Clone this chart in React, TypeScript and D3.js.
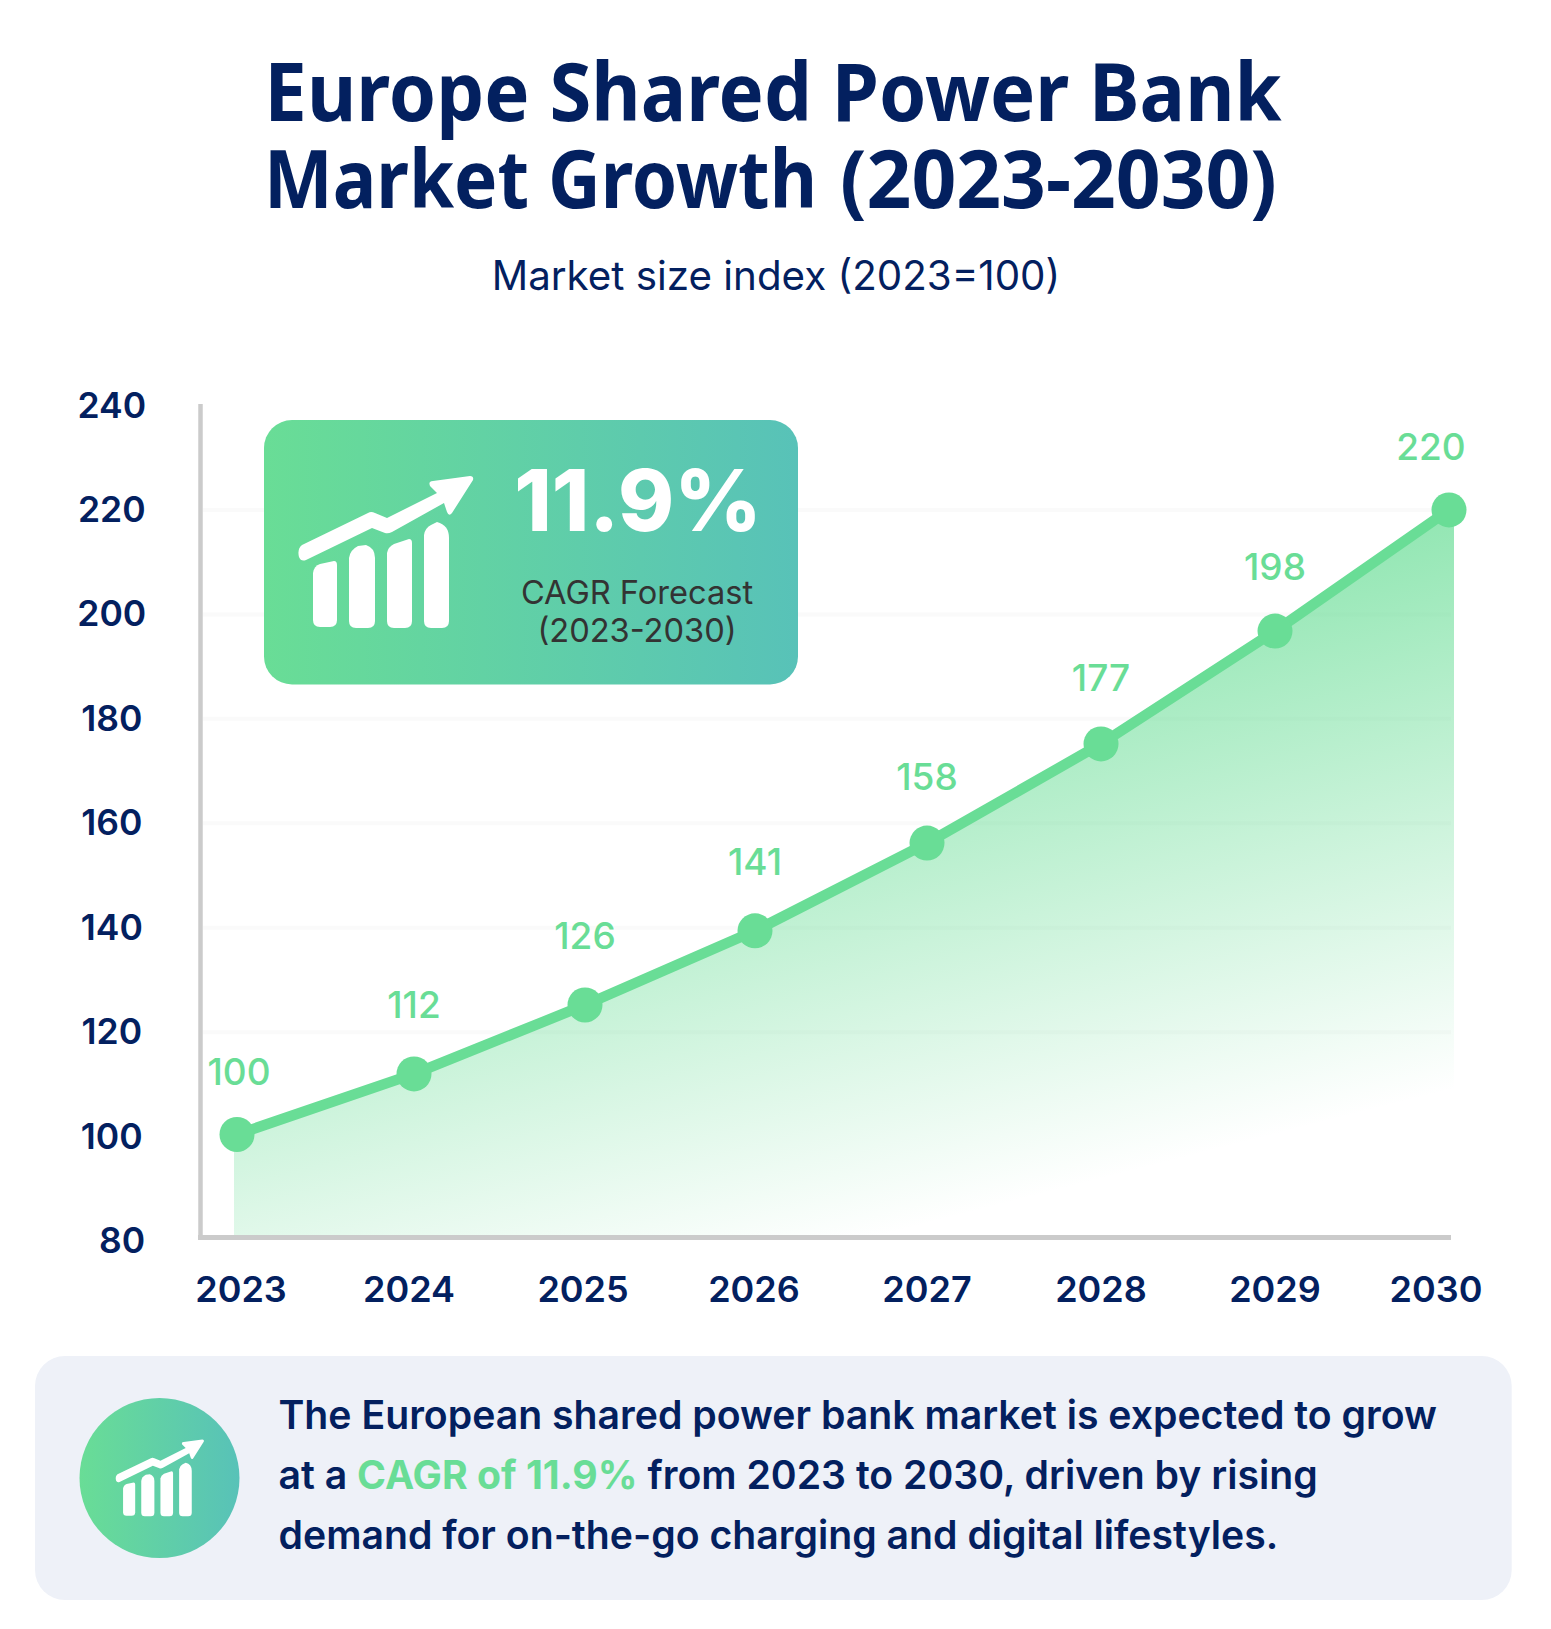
import React from 'react';
import { area, curveLinear, line, scaleLinear } from 'd3';

const years = ['2023', '2024', '2025', '2026', '2027', '2028', '2029', '2030'];
const indexValues = [100.4, 112, 125.2, 139.4, 156.2, 175.2, 196.8, 220];
const pointLabels = ['100', '112', '126', '141', '158', '177', '198', '220'];
const yTicks = [80, 100, 120, 140, 160, 180, 200, 220, 240];
const gridTicks = [120, 140, 160, 180, 200, 220];

const summaryLines = [
  [{ t: 'The European shared power bank market is expected to grow' }],
  [{ t: 'at a ' }, { t: 'CAGR of 11.9%', hi: true }, { t: ' from 2023 to 2030, driven by rising' }],
  [{ t: 'demand for on-the-go charging and digital lifestyles.' }],
];

const width = 1551;
const height = 1629;

const navy = '#03205f';
const green = '#69dd96';
const teal = '#58c2b8';
const axisGrey = '#cbcbcb';
const inter = 'Inter, sans-serif';

const yScale = scaleLinear().domain([80, 240]).range([1241, 405.5]);
// markers and tick labels sit slightly off an even spacing in the original
const xScale = scaleLinear()
  .domain(years.map(Number))
  .range([237, 414, 585, 755, 927, 1101, 1275, 1449]);
const tickScale = scaleLinear()
  .domain(years.map(Number))
  .range([241, 409, 583, 754, 927, 1101, 1275, 1436]);

// how far each value label floats above its marker
const labelLift = [49, 56, 56, 56, 53, 53, 51, 50];

const pts = years.map((y, i) => ({ x: xScale(Number(y)), y: yScale(indexValues[i]) }));

const linePath = line<{ x: number; y: number }>()
  .x(d => d.x)
  .y(d => d.y)
  .curve(curveLinear);

const areaPath = area<{ x: number; y: number }>()
  .x(d => d.x)
  .y0(1235)
  .y1(d => d.y);

const areaPts = pts.map((p, i) => ({
  x: i === 0 ? p.x - 3 : i === pts.length - 1 ? p.x + 5 : p.x,
  y: p.y,
}));

function GrowthIcon({ fill = '#fff', transform }: { fill?: string; transform: string }) {
  return (
    <g transform={transform} fill={fill}>
      <path d="M313 573 Q314 566 320 564 L334 561 Q337 561 337 565 L337 620 Q337 627 330 627 L320 627 Q313 627 313 620 Z" />
      <path d="M349 558 Q350 550 358 546 L366 545 Q375 548 375 558 L375 621 Q375 628 368 628 L356 628 Q349 628 349 621 Z" />
      <path d="M387 553 Q388 547 394 544 L409 539 Q412 539 412 543 L412 621 Q412 628 405 628 L394 628 Q387 628 387 621 Z" />
      <path d="M424 535 Q425 528 431 525 L437 522 Q449 525 449 538 L449 621 Q449 628 442 628 L431 628 Q424 628 424 621 Z" />
      <path d="M302 545 L368 513 Q371 511 375 513 L387 518 L437 493 L430 486 Q428 481 433 481 L470 476 Q474 476 473 480 L452 513 Q449 517 447 512 L444 503 L392 532 Q388 534 385 533 L372 528 L306 560 Q301 562 299 557 Q297 549 302 545 Z" />
    </g>
  );
}

function App() {
  return (
    <svg
      width={width}
      height={height}
      style={{ position: 'absolute', left: 0, top: 0, background: '#fff' }}
    >
      <defs>
        <linearGradient id="card" x1="0" y1="0" x2="1" y2="0">
          <stop offset="0" stopColor={green} />
          <stop offset="1" stopColor={teal} />
        </linearGradient>
        <linearGradient id="fade" gradientUnits="userSpaceOnUse" x1={1450} y1={515} x2={1588} y2={1055}>
          <stop offset="0" stopColor={green} stopOpacity={0.72} />
          <stop offset="1" stopColor={green} stopOpacity={0} />
        </linearGradient>
      </defs>

      <g fontFamily="'Noto Sans', sans-serif" fontWeight={700} fontSize={80} fill={navy}>
        <text textAnchor="middle" transform="translate(773,121) scale(0.95,1)">Europe Shared Power Bank</text>
        <text textAnchor="end" transform="translate(817,207.5) scale(0.91,1)">Market Growth</text>
        <text textAnchor="start" transform="translate(840,207.5) scale(0.98,1)">(2023-2030)</text>
      </g>
      <text x={776} y={290} textAnchor="middle" fontFamily={inter} fontSize={40.3} fill={navy}>
        Market size index (2023=100)
      </text>

      {gridTicks.map(t => (
        <line key={t} x1={203} x2={1451} y1={yScale(t)} y2={yScale(t)} stroke="#fafafa" strokeWidth={4} />
      ))}

      <path d={areaPath(areaPts)!} fill="url(#fade)" />

      <line x1={200.5} x2={200.5} y1={404} y2={1240} stroke={axisGrey} strokeWidth={4.5} />
      <line x1={198} x2={1451} y1={1237.5} y2={1237.5} stroke={axisGrey} strokeWidth={5} />

      {yTicks.map(t => (
        <text
          key={t}
          x={t === 80 ? 122 : 111.8}
          y={yScale(t) + 12}
          textAnchor="middle"
          fontFamily={inter}
          fontWeight={600}
          fontSize={35.5}
          fill={navy}
        >
          {t}
        </text>
      ))}

      {years.map(y => (
        <text
          key={y}
          x={tickScale(Number(y))}
          y={1302}
          textAnchor="middle"
          fontFamily={inter}
          fontWeight={600}
          fontSize={36}
          fill={navy}
        >
          {y}
        </text>
      ))}

      <path d={linePath(pts)!} fill="none" stroke={green} strokeWidth={10.5} />
      {pts.map((p, i) => (
        <g key={years[i]}>
          <circle cx={p.x} cy={p.y} r={17.5} fill={green} />
          <text
            x={i === 7 ? p.x - 18 : p.x + (i === 0 ? 2 : 0)}
            y={p.y - labelLift[i]}
            textAnchor="middle"
            fontFamily={inter}
            fontWeight={500}
            fontSize={37}
            fill={green}
          >
            {pointLabels[i]}
          </text>
        </g>
      ))}

      <rect x={264} y={420} width={534} height={264.5} rx={28} fill="url(#card)" />
      <GrowthIcon transform="translate(0,0)" />
      <text x={638} y={531} textAnchor="middle" fontFamily={inter} fontWeight={800} fontSize={85} fill="#fff">
        11.9%
      </text>
      <g textAnchor="middle" fontFamily={inter} fontSize={32.6} fill="#333">
        <text x={637} y={604}>CAGR Forecast</text>
        <text x={637} y={641.5}>(2023-2030)</text>
      </g>

      <rect x={35} y={1356} width={1476.7} height={244} rx={30} fill="#eef1f8" />
      <circle cx={159.5} cy={1478} r={80} fill="url(#card)" />
      <GrowthIcon transform="translate(116,1440) scale(0.505) translate(-299,-477)" />
      <text fontFamily={inter} fontWeight={600} fontSize={39.2} fill={navy}>
        {summaryLines.map((parts, i) => (
          <tspan key={i} x={278.5} y={1429 + i * 60}>
            {parts.map((p, j) => (
              <tspan key={j} fill={p.hi ? green : navy} fontWeight={p.hi ? 700 : 600}>{p.t}</tspan>
            ))}
          </tspan>
        ))}
      </text>
    </svg>
  );
}

export default App;
